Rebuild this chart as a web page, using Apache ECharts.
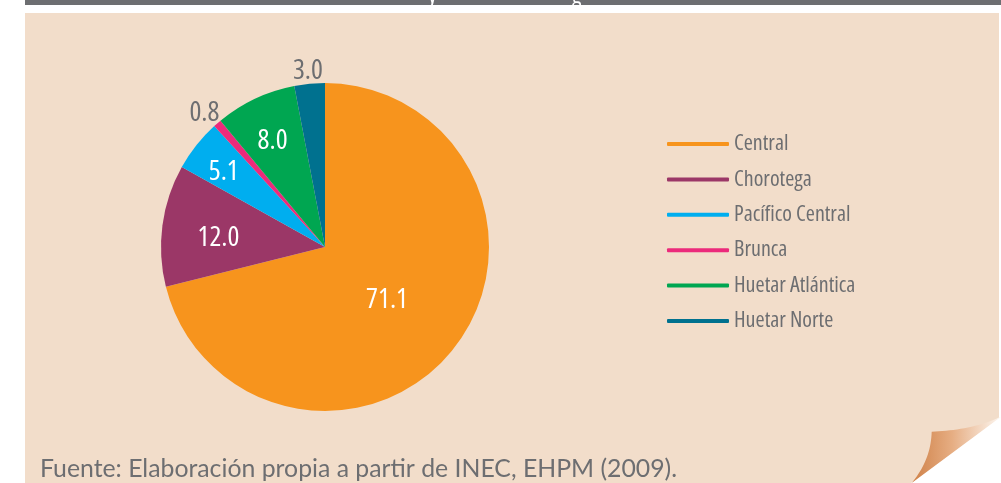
<!DOCTYPE html>
<html>
<head>
<meta charset="utf-8">
<script src="https://cdn.jsdelivr.net/npm/echarts@6/dist/echarts.min.js"></script>
<style>
  html, body { margin: 0; padding: 0; background: #fff; }
  #main { width: 1001px; height: 483px; }
</style>
</head>
<body>
<div id="main"></div>
<script>
var regions = ['Central', 'Chorotega', 'Pacífico Central', 'Brunca', 'Huetar Atlántica', 'Huetar Norte'];
var shares = [71.1, 12.0, 5.1, 0.8, 8.0, 3.0];
var sourceNote = 'Fuente: Elaboración propia a partir de INEC, EHPM (2009).';

var colors = ['#f7941d', '#9b3767', '#00aeef', '#ec2a7b', '#00a651', '#00718f'];
// label distance from centre, as a fraction of the radius
var labelRadius = [0.48, 0.655, 0.787, 1.12, 0.75, 1.108];
var labelOutside = [false, false, false, true, false, true];

var grey = '#6d6e71';
var cx = 325, cy = 247, r = 164;

// page curl outline, sampled from two cubic curves
function cubic(p0, p1, p2, p3, n) {
  var pts = [];
  for (var i = 0; i <= n; i++) {
    var t = i / n, u = 1 - t;
    pts.push([
      u * u * u * p0[0] + 3 * u * u * t * p1[0] + 3 * u * t * t * p2[0] + t * t * t * p3[0],
      u * u * u * p0[1] + 3 * u * u * t * p1[1] + 3 * u * t * t * p2[1] + t * t * t * p3[1]
    ]);
  }
  return pts;
}
var curl = cubic([931.7, 431.7], [955, 431], [982, 426], [1001, 416.7], 20)
  .concat(cubic([911.7, 483], [924, 468], [931, 452], [931.7, 431.7], 20));

var myChart = echarts.init(document.getElementById('main'));

var option = {
  animation: false,
  color: colors,
  graphic: [
    { type: 'rect', shape: { x: 25, y: 0, width: 976, height: 5 }, style: { fill: grey }, silent: true },
    { type: 'text', style: { x: 428, y: -16, text: 'y', fill: '#fff', font: "condensed 24px 'Open Sans'", verticalAlign: 'top' }, silent: true },
    { type: 'text', style: { x: 572, y: -16, text: 'g', fill: '#fff', font: "condensed 24px 'Open Sans'", verticalAlign: 'top' }, silent: true },
    { type: 'rect', z: -10, shape: { x: 25, y: 13, width: 974, height: 470 }, style: { fill: '#f2ddca' }, silent: true },
    { type: 'polygon', shape: { points: [[1001, 416], [1001, 483], [911, 483]] }, style: { fill: '#fff' }, silent: true },
    {
      type: 'polygon', silent: true,
      shape: { points: curl },
      style: {
        fill: {
          type: 'linear', x: 0, y: 0, x2: 1, y2: 0,
          colorStops: [
            { offset: 0, color: '#cf8148' },
            { offset: 0.45, color: '#e6ad82' },
            { offset: 1, color: '#fdf7f1' }
          ]
        }
      }
    },
    {
      type: 'text', silent: true,
      style: { x: 40, y: 469, text: sourceNote, fill: grey, font: '24.8px Lato, sans-serif', verticalAlign: 'middle' }
    }
  ],
  legend: {
    orient: 'vertical',
    left: 662,
    top: 127,
    icon: 'roundRect',
    itemWidth: 62,
    itemHeight: 4,
    itemGap: 11.4,
    selectedMode: false,
    data: regions,
    textStyle: { color: grey, fontSize: 22, lineHeight: 24, fontStyle: 'condensed', fontFamily: "'Open Sans'" }
  },
  series: [{
    type: 'pie',
    center: [cx, cy],
    radius: r,
    startAngle: 90,
    clockwise: true,
    avoidLabelOverlap: false,
    emphasis: { disabled: true },
    itemStyle: { borderWidth: 0 },
    labelLine: { show: false },
    label: {
      show: true,
      position: 'inside',
      fontSize: 28,
      fontStyle: 'condensed',
      fontFamily: "'Open Sans'",
      formatter: function (p) { return p.value.toFixed(1); }
    },
    labelLayout: function (p) {
      var data = myChart.getModel().getSeriesByIndex(0).getData();
      var L = data.getItemLayout(p.dataIndex);
      var a = (L.startAngle + L.endAngle) / 2;
      var d = L.r * labelRadius[p.dataIndex];
      // small downward nudge so the digits, not the line box, sit on the point
      return { x: L.cx + d * Math.cos(a), y: L.cy + d * Math.sin(a) + 5, align: 'center', verticalAlign: 'middle' };
    },
    data: regions.map(function (name, i) {
      return {
        name: name,
        value: shares[i],
        label: { color: labelOutside[i] ? grey : '#fff' }
      };
    })
  }]
};

myChart.setOption(option);
</script>
</body>
</html>
